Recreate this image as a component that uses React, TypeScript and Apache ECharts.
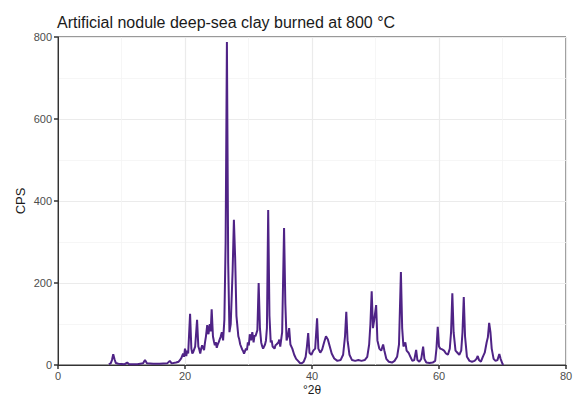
import React, { useEffect, useRef } from "react";
import * as echarts from "echarts";

const TITLE = "Artificial nodule deep-sea clay burned at 800 °C";
const X_NAME = "°2θ";
const Y_NAME = "CPS";
const X_TICKS = [0, 20, 40, 60, 80];
const Y_TICKS = [0, 200, 400, 600, 800];

// 2θ positions (degrees) and counts per second
const twoTheta: number[] = [
  8.0, 8.3, 8.5, 8.7, 8.9, 9.1, 9.5, 10.5, 10.9, 11.2, 12.5, 13.4, 13.7, 14.0, 15.0, 16.0, 17.2, 17.6, 17.9, 18.6,
  19.0, 19.2, 19.4, 19.7, 19.85, 20.0, 20.2, 20.35, 20.5, 20.8, 21.0, 21.15, 21.3, 21.6, 21.9, 22.1, 22.25, 22.4, 22.55, 22.7,
  23.0, 23.15, 23.3, 23.5, 23.7, 23.9, 24.05, 24.2, 24.4, 24.55, 24.7, 24.85, 25.0, 25.15, 25.3, 25.45, 25.6, 25.8, 26.0, 26.2,
  26.4, 26.6, 26.8, 27.0, 27.2, 27.5, 27.7, 27.9, 28.1, 28.4, 28.55, 28.7, 29.0, 29.15, 29.3, 29.6, 29.75, 29.9, 30.05, 30.2,
  30.4, 30.6, 30.8, 30.95, 31.1, 31.4, 31.6, 31.8, 32.0, 32.15, 32.3, 32.6, 32.75, 32.9, 33.1, 33.3, 33.5, 33.65, 33.8, 34.1,
  34.25, 34.4, 34.7, 34.85, 35.0, 35.3, 35.6, 35.8, 36.0, 36.2, 36.4, 36.6, 36.9, 37.2, 37.5, 37.8, 38.1, 38.4, 38.7, 39.0,
  39.2, 39.4, 39.6, 39.9, 40.2, 40.5, 40.8, 41.0, 41.3, 41.6, 41.9, 42.2, 42.5, 42.8, 43.1, 43.5, 44.0, 44.5, 44.9, 45.2,
  45.4, 45.6, 45.9, 46.3, 46.8, 47.3, 47.8, 48.3, 48.7, 49.0, 49.2, 49.4, 49.6, 49.8, 50.1, 50.3, 50.6, 50.9, 51.2, 51.4,
  51.7, 52.1, 52.6, 53.0, 53.4, 53.7, 54.0, 54.2, 54.4, 54.7, 54.9, 55.2, 55.5, 55.8, 56.1, 56.4, 56.6, 56.9, 57.2, 57.5,
  57.7, 58.0, 58.5, 59.0, 59.4, 59.6, 59.8, 60.0, 60.2, 60.5, 60.8, 61.1, 61.4, 61.7, 61.9, 62.1, 62.3, 62.6, 62.9, 63.2,
  63.5, 63.7, 63.9, 64.1, 64.4, 64.8, 65.2, 65.6, 65.9, 66.1, 66.3, 66.6, 66.9, 67.2, 67.5, 67.7, 67.9, 68.1, 68.3, 68.6,
  68.9, 69.2, 69.5, 69.7, 70.0, 70.1,
];
const cps: number[] = [
  2, 4, 12, 26, 14, 5, 3, 2, 6, 2, 2, 4, 12, 4, 3, 3, 4, 10, 4, 6,
  8, 12, 16, 28, 20, 40, 22, 35, 28, 125, 40, 28, 32, 45, 110, 45, 38, 28, 40, 48,
  36, 55, 70, 97, 75, 100, 82, 136, 70, 58, 48, 56, 42, 50, 55, 62, 68, 80, 60, 110,
  300, 788, 250, 80, 100, 230, 354, 260, 120, 70, 62, 50, 38, 34, 28, 40, 36, 55, 48, 75,
  60, 80, 55, 72, 70, 85, 200, 90, 55, 46, 40, 50, 60, 90, 378, 120, 55, 60, 45, 40,
  48, 50, 55, 62, 45, 80, 334, 150, 60, 70, 90, 50, 40, 25, 15, 10, 5, 4, 8, 20,
  45, 78, 30, 25, 35, 40, 114, 40, 30, 38, 55, 70, 62, 45, 28, 16, 10, 12, 25, 70,
  130, 60, 25, 12, 10, 12, 10, 12, 20, 50, 100, 180, 90, 110, 146, 60, 40, 35, 50, 35,
  15, 8, 6, 10, 20, 50, 227, 90, 45, 55, 35, 30, 20, 10, 12, 37, 12, 8, 15, 45,
  15, 6, 5, 6, 10, 40, 93, 45, 40, 38, 35, 28, 25, 40, 80, 175, 80, 35, 30, 25,
  35, 80, 166, 70, 20, 10, 8, 10, 15, 22, 12, 8, 20, 30, 55, 68, 103, 80, 40, 15,
  10, 12, 27, 15, 3, 0,
];

export default function App() {
  const ref = useRef<HTMLDivElement>(null);
  useEffect(() => {
    if (!ref.current) return;
    const chart = echarts.init(ref.current, undefined, { renderer: "svg" });
    const data = twoTheta.map((x, i) => [x, cps[i]]);
    const font = "Liberation Sans, Arial, sans-serif";
    const axisLabel = { color: "#4d4d4d", fontSize: 11, fontFamily: font };
    chart.setOption({
      animation: false,
      backgroundColor: "#ffffff",
      title: {
        text: TITLE,
        left: 52,
        top: 9,
        textStyle: { color: "#1a1a1a", fontSize: 16, fontWeight: "normal", fontFamily: font },
      },
      grid: {
        left: 58,
        right: 10,
        top: 37,
        bottom: 33,
        containLabel: false,
        outerBoundsMode: "none",
        show: true,
        borderColor: "#333333",
        borderWidth: 1,
        backgroundColor: "#ffffff",
      },
      xAxis: {
        type: "value",
        min: X_TICKS[0],
        max: X_TICKS[X_TICKS.length - 1],
        interval: 20,
        name: X_NAME,
        nameLocation: "middle",
        nameGap: 19,
        nameMoveOverlap: false,
        nameTextStyle: { color: "#1a1a1a", fontSize: 12, fontFamily: font },
        axisLine: { show: true, onZero: false, lineStyle: { color: "#333333", width: 1 } },
        axisTick: { show: true, length: 4, lineStyle: { color: "#333333", width: 1.5 } },
        axisLabel: { ...axisLabel, margin: 5 },
        splitLine: { show: true, lineStyle: { color: "#ebebeb", width: 1.2 } },
        minorTick: { show: false, splitNumber: 2 },
        minorSplitLine: { show: true, lineStyle: { color: "#f4f4f4", width: 0.8 } },
      },
      yAxis: {
        type: "value",
        min: Y_TICKS[0],
        max: Y_TICKS[Y_TICKS.length - 1],
        interval: 200,
        name: Y_NAME,
        nameLocation: "middle",
        nameGap: 31,
        nameMoveOverlap: false,
        nameRotate: 90,
        nameTextStyle: { color: "#1a1a1a", fontSize: 13, fontFamily: font },
        axisLine: { show: true, onZero: false, lineStyle: { color: "#333333", width: 1 } },
        axisTick: { show: true, length: 4, lineStyle: { color: "#333333", width: 1.5 } },
        axisLabel: { ...axisLabel, margin: 6 },
        splitLine: { show: true, lineStyle: { color: "#ebebeb", width: 1.2 } },
        minorTick: { show: false, splitNumber: 2 },
        minorSplitLine: { show: true, lineStyle: { color: "#f4f4f4", width: 0.8 } },
      },
      series: [
        {
          type: "line",
          data,
          showSymbol: false,
          symbol: "none",
          lineStyle: { color: "#4f2386", width: 2 },
          itemStyle: { color: "#4f2386" },
        },
      ],
    });
    return () => chart.dispose();
  }, []);
  return <div ref={ref} style={{ position: "fixed", left: 0, top: 0, width: 576, height: 398 }} />;
}
